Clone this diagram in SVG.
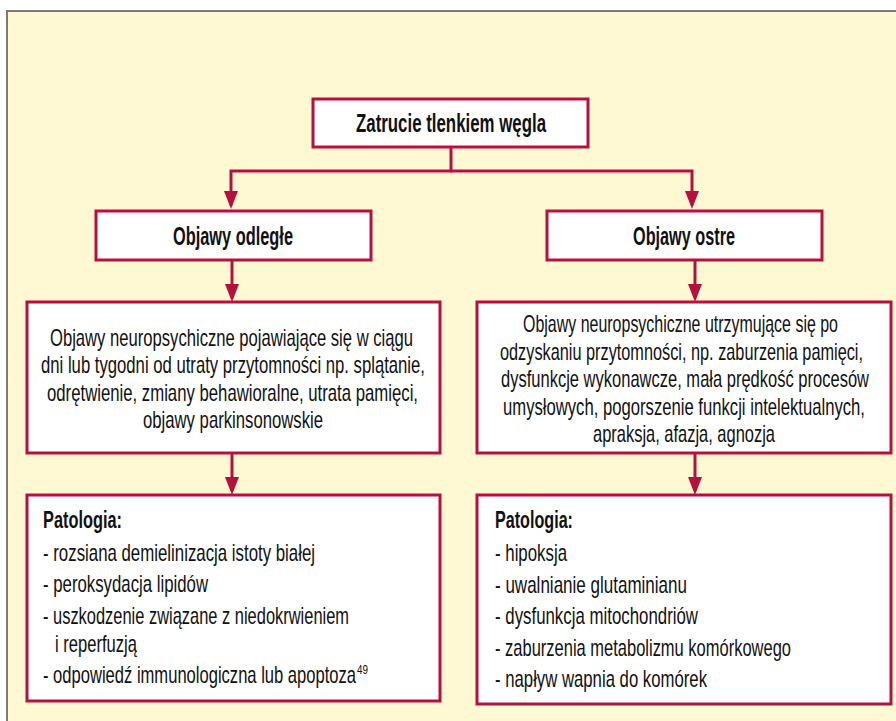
<svg xmlns="http://www.w3.org/2000/svg" width="896" height="721" viewBox="0 0 896 721">
<defs>
<style>
.bg{fill:#FFF9D3}
.frame{fill:none;stroke:#7a7a7a;stroke-width:2}
.box{fill:#ffffff;stroke:#B5113F;stroke-width:3}
.con{fill:none;stroke:#B5113F;stroke-width:3}
text{font-family:"Liberation Sans Narrow","Liberation Sans",Arial,sans-serif;fill:#111111;font-size:24px}
.b{font-weight:bold}
.t{font-size:25px}
.p{font-size:24px}
.sup{font-size:13px}
</style>
<marker id="arr" markerUnits="userSpaceOnUse" markerWidth="18" markerHeight="14" viewBox="0 0 18 14" refX="14" refY="7" orient="auto">
<path d="M0,0 L18,7 L0,14 z" fill="#B5113F"/>
</marker>
</defs>
<rect x="0" y="0" width="896" height="721" fill="#ffffff"/>
<rect class="bg" x="7" y="11" width="889" height="710"/>
<path class="frame" d="M7,721 V11 H896"/>
<g id="connectors">
<path class="con" d="M451,148 V171"/>
<path class="con" d="M452,171 H231 V205" marker-end="url(#arr)"/>
<path class="con" d="M450,171 H692 V205" marker-end="url(#arr)"/>
<path class="con" d="M232,261 V298" marker-end="url(#arr)"/>
<path class="con" d="M695,261 V298" marker-end="url(#arr)"/>
<path class="con" d="M232,454 V491" marker-end="url(#arr)"/>
<path class="con" d="M695,454 V491" marker-end="url(#arr)"/>
</g>
<g id="node-zatrucie">
<rect class="box" x="313" y="99" width="275" height="48"/>
<text class="b t" x="356" y="132" textLength="190" lengthAdjust="spacingAndGlyphs">Zatrucie tlenkiem węgla</text>
</g>
<g id="node-objawy-odlegle">
<rect class="box" x="96" y="211" width="275" height="49"/>
<text class="b t" x="173" y="245" textLength="120" lengthAdjust="spacingAndGlyphs">Objawy odległe</text>
</g>
<g id="node-objawy-ostre">
<rect class="box" x="547" y="211" width="275" height="49"/>
<text class="b t" x="633" y="245" textLength="102" lengthAdjust="spacingAndGlyphs">Objawy ostre</text>
</g>
<g id="node-opis-odlegle">
<rect class="box" x="27" y="302" width="413" height="151"/>
<text x="50" y="346" textLength="363" lengthAdjust="spacingAndGlyphs">Objawy neuropsychiczne pojawiające się w ciągu</text>
<text x="41" y="373" textLength="384" lengthAdjust="spacingAndGlyphs">dni lub tygodni od utraty przytomności np. splątanie,</text>
<text x="47" y="401" textLength="371" lengthAdjust="spacingAndGlyphs">odrętwienie, zmiany behawioralne, utrata pamięci,</text>
<text x="143" y="428" textLength="180" lengthAdjust="spacingAndGlyphs">objawy parkinsonowskie</text>
</g>
<g id="node-opis-ostre">
<rect class="box" x="477" y="302" width="414" height="151"/>
<text x="523" y="332" textLength="315" lengthAdjust="spacingAndGlyphs">Objawy neuropsychiczne utrzymujące się po</text>
<text x="500" y="359.5" textLength="363" lengthAdjust="spacingAndGlyphs">odzyskaniu przytomności, np. zaburzenia pamięci,</text>
<text x="501" y="387" textLength="368" lengthAdjust="spacingAndGlyphs">dysfunkcje wykonawcze, mała prędkość procesów</text>
<text x="503" y="414.5" textLength="362" lengthAdjust="spacingAndGlyphs">umysłowych, pogorszenie funkcji intelektualnych,</text>
<text x="593" y="442" textLength="182" lengthAdjust="spacingAndGlyphs">apraksja, afazja, agnozja</text>
</g>
<g id="node-patologia-odlegle">
<rect class="box" x="27" y="495" width="413" height="206"/>
<text class="b p" x="43" y="528" textLength="79" lengthAdjust="spacingAndGlyphs">Patologia:</text>
<text class="p" x="43" y="561" textLength="272" lengthAdjust="spacingAndGlyphs">- rozsiana demielinizacja istoty białej</text>
<text class="p" x="43" y="592" textLength="165" lengthAdjust="spacingAndGlyphs">- peroksydacja lipidów</text>
<text class="p" x="43" y="624" textLength="306" lengthAdjust="spacingAndGlyphs">- uszkodzenie związane z niedokrwieniem</text>
<text class="p" x="55" y="652" textLength="82" lengthAdjust="spacingAndGlyphs">i reperfuzją</text>
<text class="p" x="43" y="683" textLength="313" lengthAdjust="spacingAndGlyphs">- odpowiedź immunologiczna lub apoptoza</text>
<text class="sup" x="357" y="674" textLength="11" lengthAdjust="spacingAndGlyphs">49</text>
</g>
<g id="node-patologia-ostre">
<rect class="box" x="477" y="495" width="414" height="209"/>
<text class="b p" x="495" y="528" textLength="78" lengthAdjust="spacingAndGlyphs">Patologia:</text>
<text class="p" x="495" y="561" textLength="72" lengthAdjust="spacingAndGlyphs">- hipoksja</text>
<text class="p" x="495" y="593" textLength="192" lengthAdjust="spacingAndGlyphs">- uwalnianie glutaminianu</text>
<text class="p" x="495" y="624" textLength="203" lengthAdjust="spacingAndGlyphs">- dysfunkcja mitochondriów</text>
<text class="p" x="495" y="656" textLength="296" lengthAdjust="spacingAndGlyphs">- zaburzenia metabolizmu komórkowego</text>
<text class="p" x="495" y="687" textLength="212" lengthAdjust="spacingAndGlyphs">- napływ wapnia do komórek</text>
</g>
</svg>
